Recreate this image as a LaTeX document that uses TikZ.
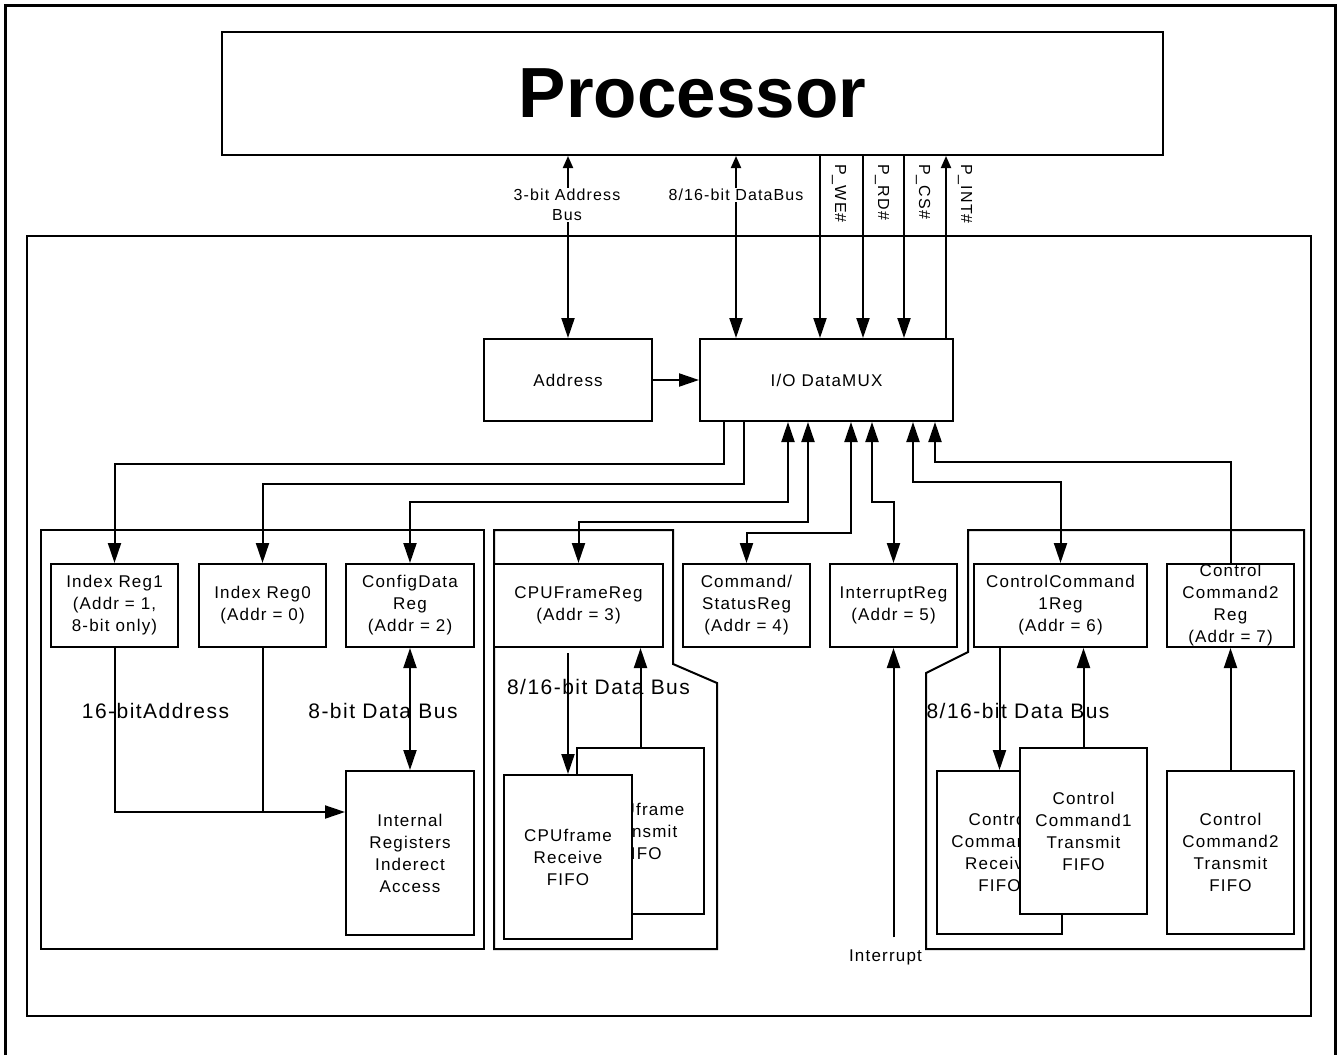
\documentclass[tikz,border=0pt]{standalone}
\usepackage{fontspec}
\setmainfont{Liberation Sans}
\newfontfamily\spacedfont{Liberation Sans}[LetterSpace=7]
\usetikzlibrary{arrows.meta}
\begin{document}
\begin{tikzpicture}[x=1pt,y=-1pt,line width=2pt,>={Triangle[length=20pt,width=13pt]},
    reg/.style={draw,fill=white,inner sep=0pt,align=center,minimum width=127pt,minimum height=83pt,
      font=\spacedfont\fontsize{17}{22}\selectfont},
    fifo/.style={reg,minimum height=164pt},
    buslabel/.style={font=\spacedfont\fontsize{21}{25}\selectfont,inner sep=0pt},
    pinlabel/.style={font=\spacedfont\fontsize{16}{20}\selectfont,inner sep=1pt,align=center}]
  \useasboundingbox (0,0) rectangle (1338,1055);
  \draw[line width=3pt] (5,1055) -- (5,5) -- (1335,5) -- (1335,1055);
  \draw (27,236) rectangle (1311,1016);
  \draw (41,530) rectangle (484,949);
  \draw (494,530) -- (673,530) -- (673,664) -- (717,683) -- (717,949) -- (494,949) -- cycle;
  \draw (968,530) -- (1304,530) -- (1304,949) -- (926,949) -- (926,673) -- (968,652) -- cycle;

  \node[draw,minimum width=941pt,minimum height=123pt,font=\fontsize{71}{80}\selectfont\bfseries] (proc) at (692.5,93.5) {Processor};
  \node[reg,minimum width=168pt,minimum height=82pt] (addr) at (568,380) {Address};
  \node[reg,minimum width=253pt,minimum height=82pt] (mux) at (826.5,380) {I/O DataMUX};

  \node[reg] (ir1) at (114.5,605.5) {Index Reg1\\(Addr = 1,\\8-bit only)};
  \node[reg] (ir0) at (262.5,605.5) {Index Reg0\\(Addr = 0)};
  \node[reg,minimum width=128pt] (cfg) at (410,605.5) {ConfigData\\Reg\\(Addr = 2)};
  \node[reg,minimum width=169pt] (cpu) at (578.5,605.5) {CPUFrameReg\\(Addr = 3)};
  \node[reg] (cmd) at (746.5,605.5) {Command/\\StatusReg\\(Addr = 4)};
  \node[reg] (irq) at (893.5,605.5) {InterruptReg\\(Addr = 5)};
  \node[reg,minimum width=173pt] (cc1) at (1060.5,605.5) {ControlCommand\\1Reg\\(Addr = 6)};
  \node[reg] (cc2) at (1230.5,605.5) {Control\\Command2\\Reg\\(Addr = 7)};

  \node[fifo,minimum width=128pt] (intreg) at (410,853) {Internal\\Registers\\Inderect\\Access};
  \node[fifo,minimum height=166pt] (cputx) at (640.5,831) {CPUframe\\Transmit\\FIFO};
  \node[fifo,minimum width=128pt] (cpurx) at (568,857) {CPUframe\\Receive\\FIFO};
  \node[fifo,minimum width=125pt,minimum height=163pt] (cc1rx) at (999.5,852.5) {Control\\Command1\\Receive\\FIFO};
  \node[fifo,minimum height=166pt] (cc1tx) at (1083.5,831) {Control\\Command1\\Transmit\\FIFO};
  \node[fifo,minimum height=163pt] (cc2tx) at (1230.5,852.5) {Control\\Command2\\Transmit\\FIFO};

  \coordinate (dbus) at ([xshift=37pt]mux.north west);
  \coordinate (we) at ([xshift=121pt]mux.north west);
  \coordinate (rd) at ([xshift=164pt]mux.north west);
  \coordinate (cs) at ([xshift=205pt]mux.north west);
  \coordinate (int) at ([xshift=247pt]mux.north west);
  \draw[{Triangle[length=12pt,width=10pt]}->] (proc.south -| addr.north) -- (addr.north);
  \draw[{Triangle[length=12pt,width=10pt]}->] (proc.south -| dbus) -- (dbus);
  \draw[->] (proc.south -| we) -- (we);
  \draw[->] (proc.south -| rd) -- (rd);
  \draw[->] (proc.south -| cs) -- (cs);
  \draw[{Triangle[length=12pt,width=10pt]}-] (proc.south -| int) -- (int);
  \node[pinlabel,fill=white] (abuslbl) at (567,205) {3-bit Address\\Bus};
  \node[pinlabel,fill=white] (dbuslbl) at (736,195) {8/16-bit DataBus};
  \node[pinlabel,rotate=-90,anchor=west] (welbl) at ([xshift=19pt,yshift=-6pt]proc.south -| we) {P\_WE\#};
  \node[pinlabel,rotate=-90,anchor=west] (rdlbl) at ([xshift=19pt,yshift=-6pt]proc.south -| rd) {P\_RD\#};
  \node[pinlabel,rotate=-90,anchor=west] (cslbl) at ([xshift=19pt,yshift=-6pt]proc.south -| cs) {P\_CS\#};
  \node[pinlabel,rotate=-90,anchor=west] (intlbl) at ([xshift=19pt,yshift=-6pt]proc.south -| int) {P\_INT\#};

  \draw[->] (addr) -- (mux);
  \draw[->] ([xshift=25pt]mux.south west) -- ++(0,42) -| (ir1.north);
  \draw[->] ([xshift=45pt]mux.south west) -- ++(0,62) -| (ir0.north);
  \draw[<->] (cfg.north) -- ++(0,-61) -| ([xshift=89pt]mux.south west);
  \draw[<->] (cpu.north) -- ++(0,-41) -| ([xshift=109pt]mux.south west);
  \draw[<->] (cmd.north) -- ++(0,-30) -| ([xshift=152pt]mux.south west);
  \draw[<->] (irq.north) -- ++(0,-61) -| ([xshift=173pt]mux.south west);
  \draw[<->] (cc1.north) -- ++(0,-81) -| ([xshift=214pt]mux.south west);
  \draw[->] (cc2.north) -- ++(0,-101) -| ([xshift=236pt]mux.south west);

  \coordinate (addrin) at ([yshift=41pt]intreg.west);
  \draw[->] (ir1.south) |- (addrin);
  \draw (ir0.south) -- (ir0.south |- addrin);
  \draw[<->] (cfg) -- (intreg);
  \node[buslabel] (addrlbl) at (155.5,711) {16-bitAddress};
  \node[buslabel] (cfglbl) at (383,711) {8-bit Data Bus};

  \draw[->,shorten <=5pt] (cpu.south -| cpurx.north) -- (cpurx.north);
  \draw[->] (cputx.north) -- (cputx.north |- cpu.south);
  \node[buslabel] (cpulbl) at (598.5,687) {8/16-bit Data Bus};

  \draw[->] (cc1.south -| cc1rx.north) -- (cc1rx.north);
  \draw[->] (cc1tx.north) -- (cc1tx.north |- cc1.south);
  \draw[->] (cc2tx) -- (cc2);
  \node[buslabel] (cclbl) at (1018,711) {8/16-bit Data Bus};

  \node[pinlabel,font=\spacedfont\fontsize{17}{20}\selectfont] (intsrc) at (885.5,957) {Interrupt};
  \draw[->,shorten <=10pt] (intsrc.north -| irq.south) -- (irq.south);
\end{tikzpicture}
\end{document}
